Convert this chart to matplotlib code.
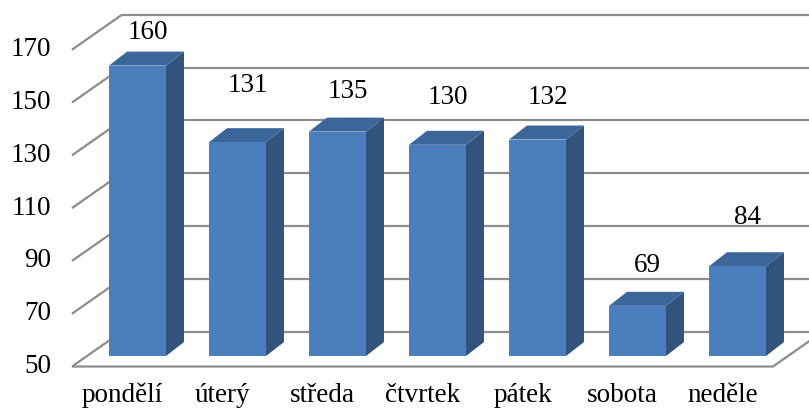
import matplotlib.pyplot as plt
from matplotlib.patches import Polygon

days = ['pondělí', 'úterý', 'středa', 'čtvrtek', 'pátek', 'sobota', 'neděle']
counts = [160, 131, 135, 130, 132, 69, 84]
ticks = [50, 70, 90, 110, 130, 150, 170]

plt.rcParams['font.family'] = ['Liberation Serif', 'DejaVu Serif']
fs = 19.5

fig = plt.figure(figsize=(8.09, 4.11), dpi=100)
ax = fig.add_axes([0, 0, 1, 1])
ax.set_xlim(-1.375, 6.715)
ax.set_ylim(29.17, 184.85)
ax.axis('off')

# floor/back wall geometry (data units); bars sit 30 % into the depth
depth_dx, depth_dy = 0.5, 13.26
front_dx, front_dy = -0.3 * depth_dx, -0.3 * depth_dy
back_dx, back_dy = 0.7 * depth_dx, 0.7 * depth_dy
left = -0.505
right = 6.505
grid_kw = dict(color='#8c8c8c', lw=1.6, zorder=1, solid_capstyle='butt')

for t in ticks:
    # diagonal on the side wall + horizontal on the back wall
    ax.plot([left + front_dx, left + back_dx], [t + front_dy, t + back_dy], **grid_kw)
    ax.plot([left + back_dx, 7.5], [t + back_dy, t + back_dy], **grid_kw)
    ax.text(left + front_dx - 0.21, t + front_dy, str(t), ha='right', va='center',
            fontsize=fs)

# floor outline
ax.plot([left + front_dx, right + front_dx, right + back_dx],
        [ticks[0] + front_dy, ticks[0] + front_dy, ticks[0] + back_dy], **grid_kw)

# bars
hw = 0.285
bdx, bdy = 0.18, 5.3
c_front, c_side, c_top = '#4b7ebc', '#31537c', '#3c6699'
base = ticks[0]
for i, (d, v) in enumerate(zip(days, counts)):
    x0, x1 = i - hw, i + hw
    ax.add_patch(Polygon([(x1, base), (x1 + bdx, base + bdy), (x1 + bdx, v + bdy), (x1, v)],
                         closed=True, fc=c_side, ec='none', zorder=3))
    ax.add_patch(Polygon([(x0, v), (x1, v), (x1 + bdx, v + bdy), (x0 + bdx, v + bdy)],
                         closed=True, fc=c_top, ec='none', zorder=3))
    ax.add_patch(Polygon([(x0, base), (x1, base), (x1, v), (x0, v)],
                         closed=True, fc=c_front, ec='none', zorder=4))
    ax.text(i + front_dx, 35.0, d, ha='center', va='center', fontsize=fs)

# value labels, lifted above the bar tops
lift = [12.5, 21.3, 15.3, 18.0, 16.0, 15.1, 18.6]
for i, v in enumerate(counts):
    ax.text(i + 0.1, v + lift[i], str(v), ha='center', va='center', fontsize=fs, zorder=5)

fig.savefig('out.png', dpi=100)
